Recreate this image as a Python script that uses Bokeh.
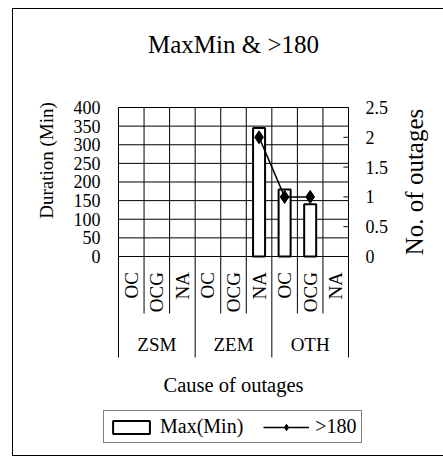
import math
from bokeh.plotting import figure
from bokeh.models import (Range1d, LinearAxis, FixedTicker, ColumnDataSource,
                          Legend, LegendItem, CustomJSTickFormatter)
from bokeh.core.properties import value
from bokeh.embed import file_html
from bokeh.resources import INLINE

nan = float("nan")

# ---------------- data ----------------
GROUPS = ["ZSM", "ZEM", "OTH"]
SUBS = ["OC", "OCG", "NA"]
FACTORS = [(g, s) for g in GROUPS for s in SUBS]
MAX_MIN = [nan, nan, nan, nan, nan, 345, 180, 140, nan]      # Duration (Min)
OVER_180 = [nan, nan, nan, nan, nan, 2, 1, 1, nan]          # No. of outages
LEFT_TICKS = [0, 50, 100, 150, 200, 250, 300, 350, 400]
RIGHT_TICKS = [0, 0.5, 1, 1.5, 2, 2.5]

TITLE = "MaxMin & >180"
Y_LABEL = "Duration (Min)"
Y2_LABEL = "No. of outages"
X_LABEL = "Cause of outages"
LEG_BAR = "Max(Min)"
LEG_LINE = ">180"

FONT = "Liberation Serif"

# ---------------- layout constants (plot area covers the whole page) ----------------
Y_TOP = 400
Y2_TOP = 2.5
K = Y2_TOP / Y_TOP
Y_VIEW = (-539.6, 687.25)
X_VIEW = (-4.617, 12.717)
Y_BOTTOM = -271.1        # bottom of category separators
SUB_LABEL_Y = -42
SUB_SEP_BOTTOM = -153
GROUP_LABEL_Y = -235
X_LABEL_Y = -344
TITLE_Y = 568
Y_LABEL_POS = (-2.82, 257.7)
Y2_LABEL_POS = (11.58, 200)
TICK_LEN = 0.2

n = len(FACTORS)
xpos = [i + 0.5 for i in range(n)]          # category slots on the x scale
group_x = [sum(x for x, f in zip(xpos, FACTORS) if f[0] == g) / len(SUBS) for g in GROUPS]
mid_x = n / 2

p = figure(width=443, height=457,
           x_range=Range1d(*X_VIEW), y_range=Range1d(*Y_VIEW),
           output_backend="svg", toolbar_location=None, x_axis_location=None,
           min_border_left=0, min_border_right=0, min_border_top=0, min_border_bottom=0)
p.extra_y_ranges = {"count": Range1d(Y_VIEW[0] * K, Y_VIEW[1] * K)}
p.outline_line_color = None
p.background_fill_alpha = 0
p.border_fill_alpha = 0
p.styles = {
    "background": ("linear-gradient(#000,#000) 12px 8px / 1px 448px no-repeat, "
                   "linear-gradient(#000,#000) 12px 8px / 440px 1px no-repeat, "
                   "linear-gradient(#000,#000) 12px 455px / 440px 1px no-repeat, #fff"),
}
p.xgrid.visible = False
p.ygrid.visible = False


def style_axis(ax, size="18px"):
    ax.major_tick_in = 0
    ax.major_tick_out = 0
    ax.minor_tick_in = 0
    ax.minor_tick_out = 0
    ax.axis_line_color = None
    ax.major_label_text_font = FONT
    ax.major_label_text_font_size = size
    ax.major_label_text_color = "black"


# left axis (tick labels sit just left of the plot edge)
ya = p.yaxis[0]
style_axis(ya)
ya.ticker = FixedTicker(ticks=LEFT_TICKS)
ya.major_label_standoff = -100

# right axis
ra = LinearAxis(y_range_name="count", ticker=FixedTicker(ticks=RIGHT_TICKS),
                formatter=CustomJSTickFormatter(code="return String(tick)"))
style_axis(ra)
ra.major_label_standoff = -78
p.add_layout(ra, "right")

# horizontal grid lines
p.segment(x0=[0] * len(LEFT_TICKS), x1=[n] * len(LEFT_TICKS), y0=LEFT_TICKS, y1=LEFT_TICKS,
          line_color="black", line_width=1)
# plot edges (extend down past the category labels)
p.segment(x0=[0, n], x1=[0, n], y0=[Y_BOTTOM, Y_BOTTOM], y1=[Y_TOP, Y_TOP],
          line_color="black", line_width=1)
# right-axis tick marks
p.segment(x0=[n - TICK_LEN] * len(RIGHT_TICKS), x1=[n] * len(RIGHT_TICKS),
          y0=RIGHT_TICKS, y1=RIGHT_TICKS, y_range_name="count",
          line_color="black", line_width=1)

# vertical grid / category separators
bounds = list(range(1, n))
is_group = [FACTORS[i][0] != FACTORS[i - 1][0] for i in bounds]
p.segment(x0=bounds, x1=bounds, y0=[0] * len(bounds), y1=[Y_TOP] * len(bounds),
          line_color="black", line_width=1)
p.segment(x0=bounds, x1=bounds, y0=[0] * len(bounds),
          y1=[Y_BOTTOM if g else SUB_SEP_BOTTOM for g in is_group],
          line_color="black", line_width=1)

src = ColumnDataSource(data=dict(x=xpos, sub=[f[1] for f in FACTORS],
                                 max_min=MAX_MIN, over=OVER_180))

bars = p.vbar(x="x", top="max_min", width=0.47, source=src,
              fill_color="white", line_color="black", line_width=2)
line_r = p.line(x="x", y="over", source=src, y_range_name="count",
                line_color="black", line_width=1.5)
pts = p.scatter(x="x", y="over", source=src, y_range_name="count", marker="diamond",
                size=13, fill_color="black", line_color="black")

# category labels
p.text(x="x", y=SUB_LABEL_Y, text="sub", source=src, angle=math.pi / 2,
       text_align="right", text_baseline="middle", text_font=value(FONT),
       text_font_size="19px", text_color="black")
p.text(x=group_x, y=[GROUP_LABEL_Y] * len(GROUPS), text=GROUPS,
       text_align="center", text_baseline="middle", text_font=value(FONT),
       text_font_size="19px", text_color="black")

# titles
p.text(x=[mid_x], y=[TITLE_Y], text=[TITLE], text_align="center", text_baseline="alphabetic",
       text_font=value(FONT), text_font_size="25px", text_color="black")
p.text(x=[mid_x], y=[X_LABEL_Y], text=[X_LABEL], text_align="center", text_baseline="alphabetic",
       text_font=value(FONT), text_font_size="20.5px", text_color="black")
p.text(x=[Y_LABEL_POS[0]], y=[Y_LABEL_POS[1]], text=[Y_LABEL], angle=math.pi / 2,
       text_align="center", text_baseline="middle",
       text_font=value(FONT), text_font_size="19px", text_color="black")
p.text(x=[Y2_LABEL_POS[0]], y=[Y2_LABEL_POS[1]], text=[Y2_LABEL], angle=math.pi / 2,
       text_align="center", text_baseline="middle",
       text_font=value(FONT), text_font_size="25px", text_color="black")

legend = Legend(items=[LegendItem(label=LEG_BAR, renderers=[bars]),
                       LegendItem(label=LEG_LINE, renderers=[line_r, pts])],
                location=(103, 14), orientation="horizontal",
                border_line_color="black", border_line_width=1,
                background_fill_color="white", background_fill_alpha=1,
                label_text_font=FONT, label_text_font_size="20px", label_text_color="black",
                glyph_width=46, glyph_height=16, label_standoff=6,
                padding=4, spacing=20, margin=0)
p.add_layout(legend)

open("out.html", "w").write(file_html(p, INLINE))
